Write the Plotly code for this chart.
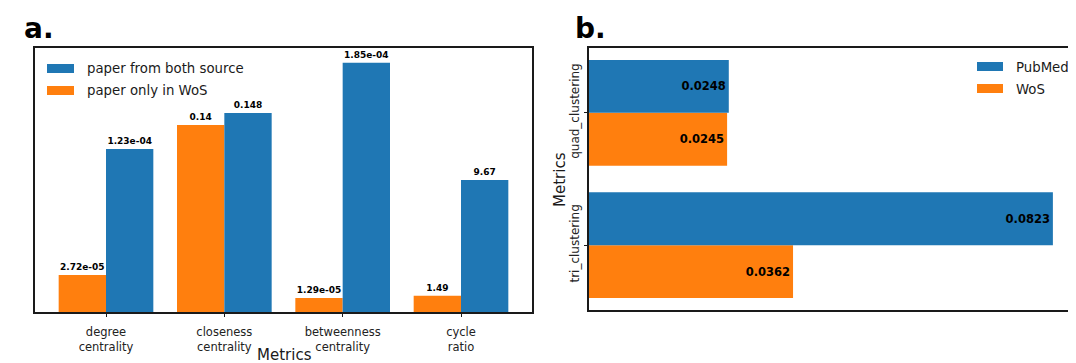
import plotly.graph_objects as go

# ---------------- data ----------------
# panel a
metrics_a = ["degree<br>centrality", "closeness<br>centrality", "betweenness<br>centrality", "cycle<br>ratio"]
both_values = [1.23e-04, 0.148, 1.85e-04, 9.67]      # paper from both source (labels)
wos_values = [2.72e-05, 0.14, 1.29e-05, 1.49]        # paper only in WoS (labels)
# relative bar heights (per-metric normalised scale)
both_heights = [0.617, 0.754, 0.944, 0.500]
wos_heights = [0.140, 0.708, 0.053, 0.062]

# panel b
metrics_b = ["tri_clustering", "quad_clustering"]
pubmed_values = [0.0823, 0.0248]
wos_b_values = [0.0362, 0.0245]


def fmt(v):
    return f"{v:.2e}" if v < 1e-3 else f"{v:.3g}"


BLUE = "#1f77b4"
ORANGE = "#ff7f0e"
FONT = "DejaVu Sans"
OFF = 8                      # page body margin of the html page
W, H = 1076 - OFF, 363 - OFF


def px(x):
    return (x - OFF) / W


def py(y):
    return 1 - (y - OFF) / H


fig = go.Figure()

# ---- panel a ----
fig.add_trace(go.Bar(
    x=metrics_a, y=wos_heights, name="paper only in WoS",
    marker=dict(color=ORANGE, line=dict(width=0)),
    text=[fmt(v) for v in wos_values], textposition="outside",
    textfont=dict(family=FONT, size=9, color="black", weight="bold"),
    cliponaxis=False, xaxis="x", yaxis="y", showlegend=False,
))
fig.add_trace(go.Bar(
    x=metrics_a, y=both_heights, name="paper from both source",
    marker=dict(color=BLUE, line=dict(width=0)),
    text=[fmt(v) for v in both_values], textposition="outside",
    textfont=dict(family=FONT, size=9, color="black", weight="bold"),
    cliponaxis=False, xaxis="x", yaxis="y", showlegend=False,
))

# ---- panel b ----
fig.add_trace(go.Bar(
    y=metrics_b, x=wos_b_values, name="WoS", orientation="h",
    marker=dict(color=ORANGE, line=dict(width=0)),
    text=[f"{v:.4f}" for v in wos_b_values], textposition="inside",
    insidetextanchor="end", textangle=0,
    insidetextfont=dict(family=FONT, size=11.5, color="black", weight="bold"),
    xaxis="x2", yaxis="y2", showlegend=False,
))
fig.add_trace(go.Bar(
    y=metrics_b, x=pubmed_values, name="PubMed", orientation="h",
    marker=dict(color=BLUE, line=dict(width=0)),
    text=[f"{v:.4f}" for v in pubmed_values], textposition="inside",
    insidetextanchor="end", textangle=0,
    insidetextfont=dict(family=FONT, size=11.5, color="black", weight="bold"),
    xaxis="x2", yaxis="y2", showlegend=False,
))

axis_line = dict(showline=True, linecolor="#1a1a1a", linewidth=1.5, zeroline=False, showgrid=False)

fig.update_layout(
    width=W, height=H,
    margin=dict(l=0, r=0, t=0, b=0),
    paper_bgcolor="white", plot_bgcolor="white",
    barmode="group", bargap=0.2, bargroupgap=0,
    font=dict(family=FONT, color="#1a1a1a"),
    xaxis=dict(domain=[px(35), px(532)], range=[-0.6, 3.6], mirror=True,
               ticks="outside", ticklen=3.5, tickwidth=1, tickcolor="#1a1a1a",
               ticklabelstandoff=5,
               tickfont=dict(family=FONT, size=11.5, color="#222"), anchor="y",
               **axis_line),
    yaxis=dict(domain=[py(312), py(48)], range=[0, 1], mirror=True,
               showticklabels=False, ticks="", anchor="x", **axis_line),
    xaxis2=dict(domain=[px(589), 1.0], range=[0, 0.0864], mirror=True,
                showticklabels=False, ticks="", anchor="y2", **axis_line),
    yaxis2=dict(domain=[py(310), py(48)], range=[-0.49, 1.49], mirror=False,
                ticks="outside", ticklen=3.5, tickwidth=1, tickcolor="#1a1a1a",
                tickangle=-90,
                tickfont=dict(family=FONT, size=12, color="#222"), anchor="x2",
                **axis_line),
)

annotations = [
    dict(text="<b>a.</b>", x=px(22), y=py(28), xanchor="left", yanchor="middle",
         font=dict(family=FONT, size=28, color="black")),
    dict(text="<b>b.</b>", x=px(573), y=py(28), xanchor="left", yanchor="middle",
         font=dict(family=FONT, size=28, color="black")),
    dict(text="Metrics", x=px(284), y=py(355), xanchor="center", yanchor="middle",
         font=dict(family=FONT, size=15, color="#1a1a1a")),
    dict(text="Metrics", x=px(560), y=py(180), xanchor="center", yanchor="middle",
         textangle=-90, font=dict(family=FONT, size=15, color="#1a1a1a")),
    # legend a
    dict(text="paper from both source", x=px(85), y=py(68), xanchor="left", yanchor="middle",
         font=dict(family=FONT, size=13.3, color="#1a1a1a")),
    dict(text="paper only in WoS", x=px(85), y=py(90), xanchor="left", yanchor="middle",
         font=dict(family=FONT, size=13.3, color="#1a1a1a")),
    # legend b
    dict(text="PubMed", x=px(1014), y=py(67), xanchor="left", yanchor="middle",
         font=dict(family=FONT, size=13.3, color="#1a1a1a")),
    dict(text="WoS", x=px(1014), y=py(89), xanchor="left", yanchor="middle",
         font=dict(family=FONT, size=13.3, color="#1a1a1a")),
]
for a in annotations:
    a.update(xref="paper", yref="paper", showarrow=False)
fig.update_layout(annotations=annotations)

shapes = [
    dict(type="rect", x0=px(47), x1=px(74), y0=py(64), y1=py(73), fillcolor=BLUE, line=dict(width=0)),
    dict(type="rect", x0=px(47), x1=px(74), y0=py(86), y1=py(95), fillcolor=ORANGE, line=dict(width=0)),
    dict(type="rect", x0=px(977), x1=px(1003), y0=py(62), y1=py(71), fillcolor=BLUE, line=dict(width=0)),
    dict(type="rect", x0=px(977), x1=px(1003), y0=py(84), y1=py(93), fillcolor=ORANGE, line=dict(width=0)),
]
for s in shapes:
    s.update(xref="paper", yref="paper")
fig.update_layout(shapes=shapes)

fig.write_html("out.html")
